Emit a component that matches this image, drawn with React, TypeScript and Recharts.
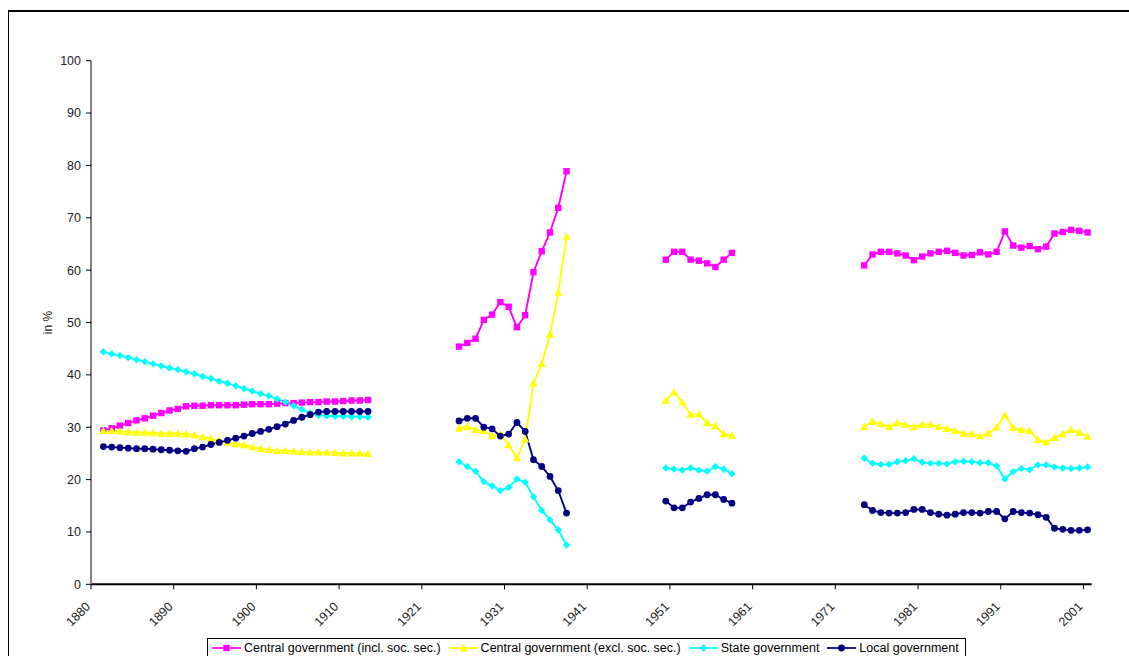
import React from 'react';
import { LineChart, Line, XAxis, YAxis, Label } from 'recharts';

const FONT = 'Arial, "Liberation Sans", Helvetica, sans-serif';

// category axis: the source table skips 1914
const YEARS = [
  ...Array.from({ length: 34 }, (_, i) => 1880 + i), // 1880-1913
  ...Array.from({ length: 87 }, (_, i) => 1915 + i), // 1915-2001
];

const TICK_YEARS = [1880, 1890, 1900, 1910, 1921, 1931, 1941, 1951, 1961, 1971, 1981, 1991, 2001];
const Y_TICKS = [0, 10, 20, 30, 40, 50, 60, 70, 80, 90, 100];

// first year of each period with data
const PERIOD_STARTS = [1881, 1925, 1950, 1974];

const CENTRAL_INCL = [
  [29.4, 29.8, 30.3, 30.8, 31.3, 31.7, 32.2, 32.7, 33.2, 33.5, 34.0, 34.1, 34.1, 34.2, 34.2, 34.2, 34.2,
    34.3, 34.4, 34.4, 34.4, 34.5, 34.6, 34.6, 34.7, 34.8, 34.8, 34.9, 34.9, 35.0, 35.1, 35.1, 35.2],
  [45.4, 46.1, 46.9, 50.5, 51.5, 53.9, 53.0, 49.1, 51.4, 59.6, 63.6, 67.2, 71.9, 78.9],
  [62.0, 63.5, 63.5, 62.0, 61.8, 61.3, 60.6, 62.0, 63.3],
  [60.9, 63.0, 63.5, 63.5, 63.2, 62.8, 61.9, 62.6, 63.2, 63.5, 63.7, 63.3, 62.8, 62.9, 63.4, 63.0,
    63.5, 67.4, 64.7, 64.3, 64.6, 64.0, 64.5, 67.0, 67.3, 67.7, 67.5, 67.2],
];

const CENTRAL_EXCL = [
  [29.3, 29.3, 29.2, 29.1, 29.0, 29.0, 28.9, 28.8, 28.8, 28.8, 28.7, 28.5, 28.1, 27.8, 27.4, 27.1, 26.8,
    26.6, 26.2, 25.9, 25.7, 25.5, 25.5, 25.4, 25.3, 25.2, 25.2, 25.2, 25.1, 25.0, 25.0, 25.0, 24.9],
  [29.8, 30.1, 29.5, 29.3, 28.3, 28.7, 26.6, 24.1, 27.7, 38.4, 42.1, 47.7, 55.7, 66.4],
  [35.1, 36.7, 34.8, 32.4, 32.5, 30.8, 30.2, 28.7, 28.4],
  [30.1, 31.1, 30.6, 30.1, 30.8, 30.5, 30.1, 30.5, 30.5, 30.1, 29.7, 29.3, 28.8, 28.7, 28.3, 28.8,
    30.0, 32.3, 29.9, 29.5, 29.3, 27.6, 27.1, 28.0, 28.7, 29.5, 29.0, 28.2],
];

const STATE = [
  [44.4, 44.0, 43.7, 43.3, 42.9, 42.5, 42.1, 41.7, 41.3, 41.0, 40.6, 40.2, 39.7, 39.3, 38.8, 38.4, 37.9,
    37.4, 36.9, 36.4, 36.0, 35.4, 34.8, 34.1, 33.4, 32.7, 32.3, 32.2, 32.1, 32.1, 32.0, 32.0, 31.9],
  [23.4, 22.5, 21.6, 19.6, 18.8, 17.9, 18.5, 20.1, 19.5, 16.7, 14.1, 12.3, 10.4, 7.5],
  [22.2, 22.0, 21.8, 22.2, 21.8, 21.6, 22.5, 22.0, 21.1],
  [24.1, 23.1, 22.9, 22.9, 23.4, 23.6, 24.0, 23.3, 23.1, 23.1, 23.0, 23.4, 23.5, 23.4, 23.2, 23.2,
    22.6, 20.1, 21.5, 22.1, 21.9, 22.8, 22.8, 22.4, 22.2, 22.1, 22.2, 22.4],
];

const LOCAL = [
  [26.3, 26.2, 26.1, 26.0, 25.9, 25.9, 25.8, 25.7, 25.6, 25.5, 25.4, 25.9, 26.2, 26.7, 27.1, 27.5, 27.9,
    28.3, 28.8, 29.2, 29.6, 30.1, 30.6, 31.3, 31.9, 32.4, 32.9, 33.0, 33.0, 33.0, 33.0, 33.0, 33.0],
  [31.2, 31.7, 31.7, 30.0, 29.7, 28.3, 28.7, 30.9, 29.2, 23.8, 22.5, 20.6, 17.9, 13.6],
  [15.9, 14.6, 14.6, 15.7, 16.4, 17.1, 17.1, 16.2, 15.5],
  [15.2, 14.1, 13.7, 13.6, 13.6, 13.7, 14.3, 14.3, 13.7, 13.4, 13.2, 13.4, 13.7, 13.7, 13.6, 13.9,
    13.9, 12.5, 13.9, 13.7, 13.6, 13.3, 12.8, 10.7, 10.5, 10.3, 10.3, 10.4],
];

const SERIES = [
  { key: 'centralIncl', name: 'Central government (incl. soc. sec.)', color: '#FF00FF', shape: 'square', values: CENTRAL_INCL },
  { key: 'centralExcl', name: 'Central government (excl. soc. sec.)', color: '#FFFF00', shape: 'triangle', values: CENTRAL_EXCL },
  { key: 'state', name: 'State government', color: '#00FFFF', shape: 'diamond', values: STATE },
  { key: 'local', name: 'Local government', color: '#000080', shape: 'circle', values: LOCAL },
];

function valueFor(periods: number[][], year: number) {
  for (let p = 0; p < periods.length; p++) {
    const off = year - PERIOD_STARTS[p];
    if (off >= 0 && off < periods[p].length) return periods[p][off];
  }
  return null;
}

const data = YEARS.map((year, idx) => {
  const row: any = { idx, year };
  SERIES.forEach((s) => {
    row[s.key] = valueFor(s.values, year);
  });
  return row;
});

function Marker({ shape, color, cx, cy }: { shape: string; color: string; cx: number; cy: number }) {
  if (shape === 'square') return <rect x={cx - 3.2} y={cy - 3.2} width={6.4} height={6.4} fill={color} />;
  if (shape === 'triangle')
    return <polygon points={`${cx},${cy - 4.2} ${cx + 4.2},${cy + 3.2} ${cx - 4.2},${cy + 3.2}`} fill={color} />;
  if (shape === 'diamond')
    return <polygon points={`${cx},${cy - 3.7} ${cx + 3.7},${cy} ${cx},${cy + 3.7} ${cx - 3.7},${cy}`} fill={color} />;
  return <circle cx={cx} cy={cy} r={3.4} fill={color} />;
}

const makeDot = (shape: string, color: string) => (props: any) => {
  const { cx, cy, index, value } = props;
  if (cx == null || cy == null || value == null || Number.isNaN(cy)) return <g key={`d-${index}`} />;
  return (
    <g key={`d-${index}`}>
      <Marker shape={shape} color={color} cx={cx} cy={cy} />
    </g>
  );
};

const XTick = (props: any) => {
  const { x, y, payload } = props;
  const label = YEARS[Math.round(payload.value + 0.5)];
  const ty = y + 16;
  return (
    <text
      x={x}
      y={ty}
      transform={`rotate(-45 ${x} ${ty})`}
      textAnchor="end"
      fontSize={12.5}
      fontFamily={FONT}
      fill="#222"
    >
      {label}
    </text>
  );
};

function LegendBox() {
  return (
    <div
      style={{
        position: 'absolute',
        left: 198,
        top: 626,
        width: 759,
        height: 24,
        border: '1px solid #000',
        boxSizing: 'border-box',
        display: 'flex',
        alignItems: 'flex-start',
        paddingLeft: 4,
        paddingTop: 1,
        fontFamily: FONT,
        fontSize: 12.5,
        lineHeight: '16px',
        color: '#000',
        background: '#fff',
        whiteSpace: 'nowrap',
      }}
    >
      {SERIES.map((s) => (
        <span key={s.key} style={{ display: 'flex', alignItems: 'center', marginRight: 8 }}>
          <svg width={29} height={16} style={{ marginRight: 3 }}>
            <line x1={0} y1={8} x2={29} y2={8} stroke={s.color} strokeWidth={1.75} />
            <Marker shape={s.shape} color={s.color} cx={14.5} cy={8} />
          </svg>
          <span>{s.name}</span>
        </span>
      ))}
    </div>
  );
}

export default function App() {
  return (
    <div
      style={{
        position: 'fixed',
        left: 8,
        top: 10,
        width: 1200,
        height: 700,
        borderTop: '2px solid #000',
        borderLeft: '1px solid #000',
        background: '#fff',
        overflow: 'hidden',
      }}
    >
      <LineChart
        width={1116}
        height={644}
        data={data}
        margin={{ top: 48.7, right: 33.3, bottom: 0, left: 0 }}
      >
        <XAxis
          type="number"
          dataKey="idx"
          domain={[-0.5, YEARS.length - 0.5]}
          ticks={TICK_YEARS.map((y) => YEARS.indexOf(y) - 0.5)}
          interval={0}
          allowDataOverflow
          height={71.7}
          tickSize={5}
          tickLine={{ stroke: '#000' }}
          axisLine={{ stroke: '#000', strokeWidth: 2 }}
          tick={<XTick />}
        />
        <YAxis
          type="number"
          domain={[0, 100]}
          ticks={Y_TICKS}
          interval={0}
          width={82}
          tickSize={5}
          tickMargin={5}
          tickLine={{ stroke: '#000' }}
          axisLine={{ stroke: '#808080', strokeWidth: 2 }}
          tick={{ fontSize: 12.5, fill: '#222', fontFamily: FONT }}
        >
          <Label value="in %" angle={-90} position="center" dx={-2} fontSize={12} fill="#222" fontFamily={FONT} />
        </YAxis>
        {SERIES.map((s) => (
          <Line
            key={s.key}
            type="linear"
            dataKey={s.key}
            name={s.name}
            stroke={s.color}
            strokeWidth={1.9}
            dot={makeDot(s.shape, s.color)}
            activeDot={false}
            connectNulls={false}
            isAnimationActive={false}
          />
        ))}
      </LineChart>
      <LegendBox />
    </div>
  );
}
